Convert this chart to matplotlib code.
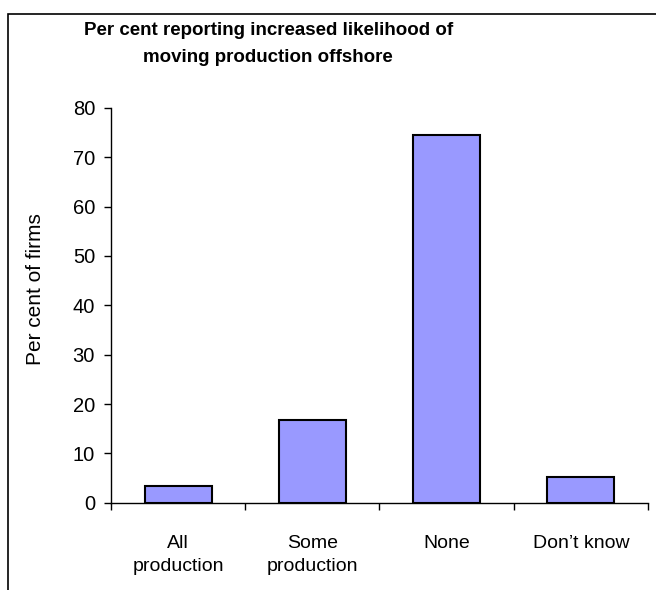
import matplotlib.pyplot as plt
from matplotlib.patches import Rectangle

plt.rcParams["font.family"] = ["Liberation Sans", "DejaVu Sans"]

categories = ["All\nproduction", "Some\nproduction", "None", "Don\u2019t know"]
values = [3.3, 16.7, 74.6, 5.3]
yticks = [0, 10, 20, 30, 40, 50, 60, 70, 80]

fig = plt.figure(figsize=(6.56, 5.9), dpi=100)
ax = fig.add_axes([0.1692, 0.148, 0.8186, 0.669])

x = range(len(categories))
ax.bar(x, values, width=0.5, color="#9999FF", edgecolor="black", linewidth=1.5, zorder=3)

ax.set_xlim(-0.5, len(categories) - 0.5)
ax.set_ylim(0, 80)
ax.set_yticks(yticks)
ax.tick_params(axis="y", direction="out", length=5, width=1, labelsize=14.5, pad=6.5)

# category labels centred, tick marks on the boundaries
ax.set_xticks([i - 0.5 for i in range(len(categories) + 1)], minor=True)
ax.set_xticks(list(x))
ax.set_xticklabels(categories, fontsize=14, linespacing=1.5)
ax.tick_params(axis="x", which="major", length=0, pad=23)
ax.tick_params(axis="x", which="minor", direction="out", length=5, width=1)

for side in ["top", "right"]:
    ax.spines[side].set_visible(False)
ax.spines["left"].set_linewidth(1)
ax.spines["bottom"].set_linewidth(1)

ax.set_ylabel("Per cent of firms", fontsize=15)
ax.yaxis.set_label_coords(-0.123, 0.54)

fig.text(0.409, 0.926, "Per cent reporting increased likelihood of\nmoving production offshore",
         ha="center", va="center", fontsize=13.5, fontweight="bold", linespacing=1.75)

# outer chart border
fig.add_artist(Rectangle((8 / 656, -0.2), 1.2, 0.2 + (590 - 14) / 590,
                         transform=fig.transFigure, fill=False,
                         edgecolor="black", linewidth=1.2))

fig.savefig("out.png", dpi=100)
